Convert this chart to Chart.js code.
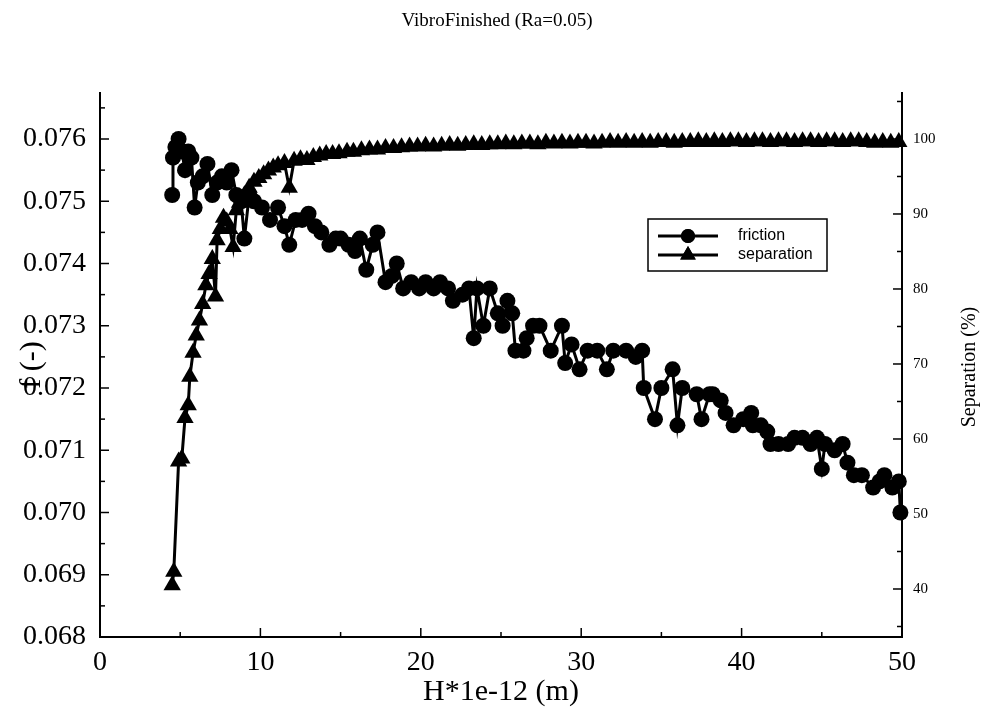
<!DOCTYPE html>
<html><head><meta charset="utf-8">
<script src="https://cdn.jsdelivr.net/npm/chart.js@4/dist/chart.umd.min.js"></script>
<style>html,body{margin:0;padding:0;background:#fff}</style>
</head><body>
<canvas id="c" width="984" height="714"></canvas>
<script>
const chartTitle = 'VibroFinished (Ra=0.05)';
const xTitle = 'H*1e-12 (m)';
const yTitle = 'f (-)';
const y2Title = 'Separation (%)';

const xTicks = [0, 10, 20, 30, 40, 50];
const xMinor = [5, 15, 25, 35, 45];
const fTicks = [0.068, 0.069, 0.070, 0.071, 0.072, 0.073, 0.074, 0.075, 0.076];
const fMinor = [0.0685, 0.0695, 0.0705, 0.0715, 0.0725, 0.0735, 0.0745, 0.0755, 0.0765];
const sepTicks = [40, 50, 60, 70, 80, 90, 100];
const sepMinor = [35, 45, 55, 65, 75, 85, 95, 105];

const frictionX = [4.5,4.55,4.7,4.9,5.1,5.3,5.5,5.7,5.9,6.1,6.4,6.7,7.0,7.3,7.6,7.9,8.2,8.5,8.8,9.0,9.3,9.6,10.1,10.6,11.1,11.5,11.8,12.2,12.6,13.0,13.4,13.8,14.3,14.7,15.0,15.5,15.9,16.2,16.6,17.0,17.3,17.8,18.2,18.5,18.9,19.4,19.9,20.3,20.8,21.2,21.7,22.0,22.6,23.0,23.3,23.5,23.9,24.3,24.8,25.1,25.4,25.7,25.9,26.4,26.6,27.0,27.4,28.1,28.8,29.0,29.4,29.9,30.4,31.0,31.6,32.0,32.8,33.4,33.8,33.9,34.6,35.0,35.7,36.0,36.3,37.2,37.5,38.0,38.2,38.7,39.0,39.5,40.1,40.6,40.7,41.2,41.6,41.8,42.3,42.9,43.3,43.8,44.3,44.7,45.0,45.2,45.8,46.3,46.6,47.0,47.5,48.2,48.6,48.9,49.4,49.8,49.9];
const frictionF = [0.0751,0.0757,0.07587,0.0760,0.0758,0.0755,0.0758,0.0757,0.0749,0.0753,0.0754,0.0756,0.0751,0.0753,0.0754,0.0753,0.0755,0.0751,0.0750,0.0744,0.0751,0.0750,0.0749,0.0747,0.0749,0.0746,0.0743,0.0747,0.0747,0.0748,0.0746,0.0745,0.0743,0.0744,0.0744,0.0743,0.0742,0.0744,0.0739,0.0743,0.0745,0.0737,0.0738,0.0740,0.0736,0.0737,0.0736,0.0737,0.0736,0.0737,0.0736,0.0734,0.0735,0.0736,0.0728,0.0736,0.0730,0.0736,0.0732,0.0730,0.0734,0.0732,0.0726,0.0726,0.0728,0.0730,0.0730,0.0726,0.0730,0.0724,0.0727,0.0723,0.0726,0.0726,0.0723,0.0726,0.0726,0.0725,0.0726,0.0720,0.0715,0.0720,0.0723,0.0714,0.0720,0.0719,0.0715,0.0719,0.0719,0.0718,0.0716,0.0714,0.0715,0.0716,0.0714,0.0714,0.0713,0.0711,0.0711,0.0711,0.0712,0.0712,0.0711,0.0712,0.0707,0.0711,0.0710,0.0711,0.0708,0.0706,0.0706,0.0704,0.0705,0.0706,0.0704,0.0705,0.0700];

const sepX = [4.5,4.6,4.9,5.1,5.3,5.5,5.6,5.8,6.0,6.2,6.4,6.6,6.8,7.0,7.2,7.3,7.5,7.7,7.9,8.1,8.3,8.5,8.7,9.0,9.3,9.6,9.9,10.2,10.5,10.8,11.1,11.5,11.8,12.1,12.5,12.9,13.3,13.7,14.1,14.5,14.9,15.4,15.8,16.3,16.8,17.3,17.8,18.3,18.8,19.3,19.8,20.3,20.8,21.3,21.8,22.3,22.8,23.3,23.8,24.3,24.8,25.3,25.8,26.3,26.8,27.3,27.8,28.3,28.8,29.3,29.8,30.3,30.8,31.3,31.8,32.3,32.8,33.3,33.8,34.3,34.8,35.3,35.8,36.3,36.8,37.3,37.8,38.3,38.8,39.3,39.8,40.3,40.8,41.3,41.8,42.3,42.8,43.3,43.8,44.3,44.8,45.3,45.8,46.3,46.8,47.3,47.8,48.3,48.8,49.3,49.8];
const sepS = [40.5,42.3,57.0,57.4,62.8,64.5,68.3,71.5,73.8,75.8,78.0,80.5,82.0,84.0,79.0,86.5,88.0,89.5,89.0,88.0,85.6,90.5,91.5,92.5,93.5,94.3,94.8,95.3,95.8,96.2,96.5,96.8,93.5,97.1,97.3,97.2,97.6,97.8,98.0,98.0,98.1,98.3,98.3,98.5,98.6,98.6,98.8,98.8,98.9,99.0,99.0,99.1,99.0,99.1,99.2,99.1,99.2,99.3,99.2,99.3,99.3,99.4,99.3,99.4,99.4,99.3,99.5,99.4,99.5,99.4,99.5,99.5,99.4,99.5,99.6,99.5,99.6,99.5,99.6,99.5,99.6,99.6,99.5,99.6,99.6,99.7,99.6,99.7,99.6,99.7,99.7,99.6,99.7,99.7,99.6,99.7,99.7,99.6,99.7,99.7,99.6,99.7,99.7,99.6,99.7,99.7,99.6,99.5,99.6,99.5,99.6];

const serif = '"Liberation Serif", "Times New Roman", serif';
const sans = '"Liberation Sans", Arial, sans-serif';

const fricData = frictionX.map((x, i) => ({x: x, y: frictionF[i]}));
const sepData = sepX.map((x, i) => ({x: x, y: sepS[i]}));

const extras = {
  id: 'extras',
  afterDraw(chart) {
    const {ctx, chartArea: a, scales} = chart;
    ctx.save();
    ctx.strokeStyle = '#000';
    ctx.lineWidth = 1.5;
    const tick = (scale, vals, len, kind) => {
      vals.forEach(v => {
        const p = scale.getPixelForValue(v);
        ctx.beginPath();
        if (kind === 'x') { ctx.moveTo(p, a.bottom); ctx.lineTo(p, a.bottom - len); }
        else if (kind === 'l') { ctx.moveTo(a.left, p); ctx.lineTo(a.left + len, p); }
        else { ctx.moveTo(a.right, p); ctx.lineTo(a.right - len, p); }
        ctx.stroke();
      });
    };
    tick(scales.x, xTicks, 9, 'x'); tick(scales.x, xMinor, 5, 'x');
    tick(scales.y, fTicks, 9, 'l'); tick(scales.y, fMinor, 5, 'l');
    tick(scales.y2, sepTicks, 9, 'r'); tick(scales.y2, sepMinor, 5, 'r');

    ctx.fillStyle = '#000';
    ctx.font = '19px ' + serif;
    ctx.textAlign = 'center'; ctx.textBaseline = 'middle';
    ctx.fillText(chartTitle, 497, 21);
    ctx.save();
    ctx.translate(970, 367);
    ctx.rotate(-Math.PI / 2);
    ctx.font = '20px ' + serif;
    ctx.fillText(y2Title, 0, 0);
    ctx.restore();

    const lx = 648, ly = 219, lw = 179, lh = 52;
    ctx.fillStyle = '#fff';
    ctx.fillRect(lx, ly, lw, lh);
    ctx.lineWidth = 1.5; ctx.strokeStyle = '#000';
    ctx.strokeRect(lx, ly, lw, lh);
    chart.data.datasets.forEach((ds, i) => {
      const yy = ly + 17 + i * 19;
      ctx.lineWidth = 3; ctx.strokeStyle = '#000';
      ctx.beginPath(); ctx.moveTo(658, yy); ctx.lineTo(718, yy); ctx.stroke();
      ctx.fillStyle = '#000';
      Chart.helpers.drawPoint(ctx, {pointStyle: ds.pointStyle, radius: ds.pointRadius - 1, borderWidth: 0, rotation: 0}, 688, yy);
      ctx.fill();
      ctx.font = '16px ' + sans;
      ctx.textAlign = 'left'; ctx.textBaseline = 'middle';
      ctx.fillText(ds.label, 738, yy);
    });
    ctx.restore();
  }
};

new Chart(document.getElementById('c'), {
  type: 'scatter',
  data: {
    datasets: [
      {label: 'friction', data: fricData, yAxisID: 'y', showLine: true, borderColor: '#000', backgroundColor: '#000',
       borderWidth: 3, pointStyle: 'circle', pointRadius: 8, pointBorderWidth: 0, clip: false},
      {label: 'separation', data: sepData, yAxisID: 'y2', showLine: true, borderColor: '#000', backgroundColor: '#000',
       borderWidth: 3, pointStyle: 'triangle', pointRadius: 10, pointBorderWidth: 0, clip: false}
    ]
  },
  options: {
    responsive: false, animation: false, devicePixelRatio: 1,
    layout: {padding: {top: 93, left: 0, right: 0, bottom: 0}},
    plugins: {legend: {display: false}, tooltip: {enabled: false}, title: {display: false}},
    scales: {
      x: {
        type: 'linear', position: 'bottom', min: 0, max: 50,
        grid: {display: false, drawTicks: false},
        border: {display: true, color: '#000', width: 2},
        afterBuildTicks: s => { s.ticks = xTicks.map(v => ({value: v})); },
        afterFit: s => { s.height = 77; },
        ticks: {color: '#000', padding: 9, maxRotation: 0, font: {family: serif, size: 28}},
        title: {display: true, text: xTitle, color: '#000', font: {family: serif, size: 30}, padding: {top: 0, bottom: 4}}
      },
      y: {
        type: 'linear', position: 'left', min: 0.068, max: 0.076739,
        grid: {display: false, drawTicks: false},
        border: {display: true, color: '#000', width: 2},
        afterBuildTicks: s => { s.ticks = fTicks.map(v => ({value: v})); },
        afterFit: s => { s.width = 100; },
        ticks: {color: '#000', padding: 14, font: {family: serif, size: 28}, callback: v => Number(v).toFixed(3)},
        title: {display: true, text: yTitle, color: '#000', font: {family: serif, size: 30}, padding: {top: 14, bottom: 0}}
      },
      y2: {
        type: 'linear', position: 'right', min: 33.6, max: 106.13,
        grid: {display: false, drawTicks: false},
        border: {display: true, color: '#000', width: 2},
        afterBuildTicks: s => { s.ticks = sepTicks.map(v => ({value: v})); },
        afterFit: s => { s.width = 82; },
        ticks: {color: '#000', padding: 11, font: {family: serif, size: 15}}
      }
    }
  },
  plugins: [extras]
});
</script>
</body></html>
